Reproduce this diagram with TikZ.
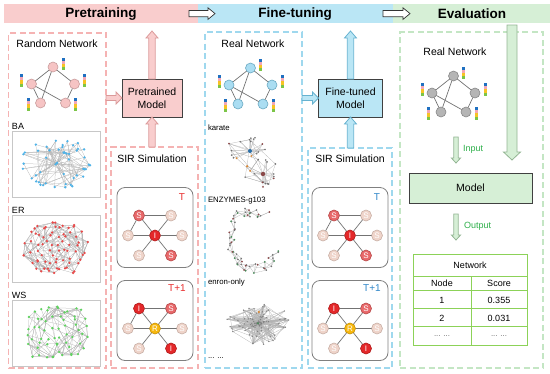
\documentclass[tikz,border=0pt]{standalone}
\usepackage{fontspec}
\setmainfont{Liberation Sans}
\usetikzlibrary{calc,fit}
\definecolor{hpink}{HTML}{F9CDCD}
\definecolor{hblue}{HTML}{BAE6F5}
\definecolor{hgreen}{HTML}{D6EFD6}
\definecolor{dpink}{HTML}{F5B3B3}
\definecolor{dblue}{HTML}{9FD8EE}
\definecolor{dgreen}{HTML}{C4E6C4}
\definecolor{apl}{HTML}{DB9A9A}
\definecolor{abl}{HTML}{66B2D0}
\definecolor{agl}{HTML}{93B593}
\definecolor{npink}{HTML}{F6C4C4}
\definecolor{npinkd}{HTML}{C99C9C}
\definecolor{nblue}{HTML}{AADDF2}
\definecolor{nblued}{HTML}{6AA9C2}
\definecolor{ngray}{HTML}{B5B5B5}
\definecolor{ngrayd}{HTML}{888888}
\definecolor{cbB}{HTML}{1F70C1}
\definecolor{cbP}{HTML}{F3A7B5}
\definecolor{cbY}{HTML}{F7C325}
\definecolor{cbG}{HTML}{7CC547}
\definecolor{sSf}{HTML}{E8686A}
\definecolor{sSd}{HTML}{B84848}
\definecolor{sPf}{HTML}{EFD4CA}
\definecolor{sPd}{HTML}{C8AFA5}
\definecolor{sIf}{HTML}{E4282A}
\definecolor{sId}{HTML}{B01818}
\definecolor{sRf}{HTML}{F6B70E}
\definecolor{sRd}{HTML}{C99000}
\definecolor{tred}{HTML}{E82C2C}
\definecolor{tblue}{HTML}{2F86C8}
\definecolor{tgreen}{HTML}{2EAF4A}
\definecolor{tblc}{HTML}{8CD258}
\definecolor{cBA}{HTML}{4FB3E8}
\definecolor{cER}{HTML}{E84A4A}
\definecolor{cWS}{HTML}{5FD35F}
\definecolor{kbrown}{HTML}{8B4A4A}
\definecolor{kblue}{HTML}{2B6FA8}
\definecolor{korange}{HTML}{D98A3A}
\definecolor{kgreen}{HTML}{4A8A5A}

\tikzset{
  hdr/.style={font=\bfseries\fontsize{13.5}{15}\selectfont},
  lbl/.style={font=\fontsize{10.5}{12.5}\selectfont},
  sublbl/.style={font=\fontsize{9}{10}\selectfont},
  small/.style={font=\fontsize{7.8}{9}\selectfont},
  tbltxt/.style={font=\fontsize{9}{10}\selectfont},
  pdash/.style={draw=dpink, line width=1.3pt, dash pattern=on 6pt off 3.5pt},
  bdash/.style={draw=dblue, line width=1.3pt, dash pattern=on 6pt off 3.5pt},
  gdash/.style={draw=dgreen, line width=1.3pt, dash pattern=on 6pt off 3.5pt},
  modelbox/.style={draw=black!75, line width=0.8pt, align=center, lbl},
  harrow/.style={draw=black!80, fill=white, line width=0.7pt},
  parrow/.style={draw=apl, fill=hpink, line width=0.8pt},
  barrow/.style={draw=abl, fill=hblue, line width=0.8pt},
  garrow/.style={draw=agl, fill=hgreen, line width=0.8pt},
  pnode/.style={circle, minimum size=10pt, line width=0.6pt},
  nedge/.style={draw=black!55, line width=0.7pt},
  sirn/.style={circle, minimum size=11pt, line width=0.6pt, text=white, font=\fontsize{8}{8}\selectfont},
  sS/.style={sirn, fill=sSf, draw=sSd},
  sP/.style={sirn, fill=sPf, draw=sPd},
  sI/.style={sirn, fill=sIf, draw=sId},
  sR/.style={sirn, fill=sRf, draw=sRd},
  sedge/.style={draw=black!55, line width=0.7pt},
  rbox/.style={draw=black!50, line width=0.8pt, rounded corners=8pt},
  panel/.style={draw=black!22, line width=0.8pt},
  gedge/.style={draw=black!30, line width=0.25pt},
  tlab/.style={font=\fontsize{10}{11}\selectfont},
  tbl/.style={draw=tblc, line width=0.9pt},
}

\newcommand\hollow[6]{%
  \coordinate (tmpP) at #2;
  \coordinate (tmpQ) at #3;
  \coordinate (tmpH) at ($(tmpQ)!#6!(tmpP)$);
  \draw[#1] ($(tmpP)!#4!90:(tmpQ)$) -- ($(tmpH)!#4!90:(tmpQ)$) -- ($(tmpH)!#5!90:(tmpQ)$) -- (tmpQ) -- ($(tmpH)!#5!-90:(tmpQ)$) -- ($(tmpH)!#4!-90:(tmpQ)$) -- ($(tmpP)!#4!-90:(tmpQ)$) -- cycle;
}

\newcommand\cbar[3]{%
  \begin{scope}[shift={($(#1)+(#2,#3)$)}]
    \fill[cbB] (0,0) rectangle (3,3.2);
    \fill[cbP] (0,3.2) rectangle (3,6.4);
    \fill[cbY] (0,6.4) rectangle (3,9.6);
    \fill[cbG] (0,9.6) rectangle (3,12.8);
  \end{scope}}

\newcommand\pnet[4]{%
  \node[pnode, fill=#3, draw=#4] (#1t) at ($#2+(0,-18)$) {};
  \node[pnode, fill=#3, draw=#4] (#1l) at ($#2+(-21.5,-1)$) {};
  \node[pnode, fill=#3, draw=#4] (#1r) at ($#2+(21.5,-1)$) {};
  \node[pnode, fill=#3, draw=#4] (#1a) at ($#2+(-12.5,18)$) {};
  \node[pnode, fill=#3, draw=#4] (#1b) at ($#2+(12.5,18)$) {};
  \draw[nedge] (#1t)--(#1l) (#1t)--(#1r) (#1t)--(#1a) (#1l)--(#1a) (#1l)--(#1b) (#1r)--(#1b);
  \cbar{#1t}{8.5}{-9.5}
  \cbar{#1l}{-11.5}{-10}
  \cbar{#1r}{8.5}{-10}
  \cbar{#1a}{-14}{-5}
  \cbar{#1b}{8.5}{-5}
}

\newcommand\siredges[1]{%
  \draw[sedge] (#1tl)--(#1tr) (#1tl)--(#1l) (#1tl)--(#1c) (#1tr)--(#1c) (#1l)--(#1c) (#1r)--(#1c) (#1bl)--(#1c) (#1br)--(#1c);}

% grid-graph edges: prefix, cols, rows, count, col reach, row reach
\newcommand\gridedges[6]{%
  \foreach \k in {1,...,#4}{
    \pgfmathtruncatemacro\ra{random(0,#3-1)}
    \pgfmathtruncatemacro\ca{random(0,#2-1)}
    \pgfmathtruncatemacro\rb{max(0,min(#3-1,\ra+random(-#6,#6)))}
    \pgfmathtruncatemacro\cb{max(0,min(#2-1,\ca+random(-#5,#5)))}
    \pgfmathtruncatemacro\a{\ra*#2+\ca+1}
    \pgfmathtruncatemacro\b{\rb*#2+\cb+1}
    \draw[gedge] (#1\a) -- (#1\b);
  }}

\begin{document}
\begin{tikzpicture}[x=1pt,y=-1pt, every node/.style={inner sep=0pt, outer sep=0pt}]
\useasboundingbox (0,0) rectangle (550,373);

% ---------- header ----------
\node[fill=hpink, fit={(3.5,4.2) (198,23)}] (hp) {};
\node[fill=hblue, fit={(198,4.2) (393,23)}] (hb) {};
\node[fill=hgreen, fit={(393,4.2) (550,23)}] (hg) {};
\node[hdr] (thp) at (101,14) {Pretraining};
\node[hdr] (thb) at (295,14) {Fine-tuning};
\node[hdr] (thg) at (472,14) {Evaluation};
\hollow{harrow}{($(hp.east)+(-9,0)$)}{($(hb.west)+(17,0)$)}{3.2pt}{5.8pt}{7pt}
\hollow{harrow}{($(hb.east)+(-10,0)$)}{($(hg.west)+(17,0)$)}{3.2pt}{5.8pt}{7pt}

% ---------- dashed frames ----------
\node[pdash, fit={(8.5,33) (106,368)}] (rn) {};
\node[pdash, fit={(111,147) (198,368)}] (psir) {};
\node[bdash, fit={(205,32) (302,368)}] (fn) {};
\node[bdash, fit={(308,148) (392,368)}] (bsir) {};
\node[gdash, fit={(400,32) (543,368)}] (ev) {};

% ---------- pretraining ----------
\node[lbl] (rnt) at (57,44) {Random Network};
\pnet{pk}{(53,85)}{npink}{npinkd}

\node[sublbl, anchor=west] (lba) at (12,126.5) {BA};
\node[panel, fit={(12,131) (100,197)}] (pba) {};
\node[sublbl, anchor=west] (ler) at (12,210.5) {ER};
\node[panel, fit={(12,215) (100,282)}] (per) {};
\node[sublbl, anchor=west] (lws) at (12,295.5) {WS};
\node[panel, fit={(12,300) (100,366)}] (pws) {};

\pgfmathsetseed{12}
% BA graph
\foreach \i in {1,...,50}{
  \pgfmathsetmacro\ang{360*rnd}
  \pgfmathsetmacro\rr{\i<4 ? 0.15*rnd : 0.2+0.8*sqrt(rnd)}
  \coordinate (ba\i) at ({57+36*\rr*cos(\ang)},{163+26*\rr*sin(\ang)});
}
\foreach \i in {2,...,50}{
  \pgfmathtruncatemacro\j{1+floor((\i-1)*pow(rnd,2.5))}
  \draw[gedge] (ba\i) -- (ba\j);
}
\foreach \i in {10,...,50}{
  \pgfmathtruncatemacro\j{1+floor((\i-1)*pow(rnd,2))}
  \draw[gedge] (ba\i) -- (ba\j);
}
\foreach \i in {1,...,50} \fill[cBA] (ba\i) circle (1.3);

% ER graph
\foreach \i in {1,...,72}{
  \pgfmathtruncatemacro\row{floor((\i-1)/12)}
  \pgfmathtruncatemacro\col{mod(\i-1,12)}
  \pgfmathsetmacro\sc{1-0.16*abs(\row-2.5)}
  \coordinate (er\i) at ({56+(\col-5.5)*6*\sc+2.5*rand},{248+(\row-2.5)*9+3*rand});
}
\gridedges{er}{12}{6}{290}{4}{2}
\foreach \i in {1,...,72} \fill[cER] (er\i) circle (1.3);

% WS graph
\foreach \i in {1,...,60}{
  \pgfmathtruncatemacro\row{floor((\i-1)/10)}
  \pgfmathtruncatemacro\col{mod(\i-1,10)}
  \pgfmathsetmacro\sc{1-0.14*abs(\row-2.5)}
  \coordinate (ws\i) at ({57+(\col-4.5)*7.4*\sc+3*rand},{332+(\row-2.5)*9+3*rand});
}
\gridedges{ws}{10}{6}{190}{3}{2}
\foreach \i in {1,...,60} \fill[cWS] (ws\i) circle (1.3);

% pretrained model
\node[modelbox, fill=hpink, minimum width=60pt, minimum height=38pt] (pm) at (152,98) {Pretrained\\Model};
\coordinate (ptop) at (152,31);
\hollow{parrow}{(rn.east |- pm.west)}{(pm.west)}{2.5pt}{6pt}{6pt}
\hollow{parrow}{(pm.north)}{(ptop)}{3.2pt}{6pt}{7pt}
\hollow{parrow}{(pm.south |- psir.north)}{(pm.south)}{3.2pt}{6pt}{7pt}

% pretraining SIR
\node[lbl] (psirt) at (152,159) {SIR Simulation};
\node[rbox, fit={(117,187.5) (193,267.5)}] (pT) {};
\node[rbox, fit={(117,280.5) (193,360.5)}] (pT1) {};
\node[tlab, text=tred] (pTl) at ($(pT.north east)+(-11,9.5)$) {T};
\node[tlab, text=tred] (pT1l) at ($(pT1.north east)+(-16,8)$) {T+1};
\begin{scope}[shift={(155,235.5)}]
  \node[sS] (atl) at (-16,-20) {S};
  \node[sP] (atr) at (16,-20) {S};
  \node[sP] (al) at (-27,0) {S};
  \node[sI] (ac) at (0,0) {I};
  \node[sP] (ar) at (27,0) {S};
  \node[sP] (abl) at (-16,20) {S};
  \node[sS] (abr) at (16,20) {S};
\end{scope}
\siredges{a}
\begin{scope}[shift={(155,328.5)}]
  \node[sI] (btl) at (-16,-20) {I};
  \node[sS] (btr) at (16,-20) {S};
  \node[sP] (bl) at (-27,0) {S};
  \node[sR] (bc) at (0,0) {R};
  \node[sP] (br) at (27,0) {S};
  \node[sP] (bbl) at (-16,20) {S};
  \node[sI] (bbr) at (16,20) {I};
\end{scope}
\siredges{b}

% ---------- fine-tuning ----------
\node[lbl] (fnt) at (253,44) {Real Network};
\pnet{bk}{(250.5,86)}{nblue}{nblued}

\node[small, anchor=west] (lka) at (208,128) {karate};
\node[small, anchor=west] (len) at (208,201) {ENZYMES-g103};
\node[small, anchor=west] (leo) at (208,282.5) {enron-only};
\node[small, anchor=west] (ldots) at (208,358) {... ...};

% karate
\coordinate (ka1) at (250,151);
\coordinate (ka2) at (263,174);
\foreach \i in {3,...,18}{
  \pgfmathsetmacro\ang{360*rnd}
  \pgfmathsetmacro\rr{0.3+0.7*sqrt(rnd)}
  \coordinate (ka\i) at ({247+20*\rr*cos(\ang)},{149+13*\rr*sin(\ang)});
}
\foreach \i in {19,...,36}{
  \pgfmathsetmacro\ang{360*rnd}
  \pgfmathsetmacro\rr{0.3+0.7*sqrt(rnd)}
  \coordinate (ka\i) at ({262+18*\rr*cos(\ang)},{173+15*\rr*sin(\ang)});
}
\foreach \i in {3,...,18} \draw[gedge] (ka\i) -- (ka1);
\foreach \i in {19,...,36} \draw[gedge] (ka\i) -- (ka2);
\foreach \k in {1,...,14}{
  \pgfmathtruncatemacro\a{random(3,18)}
  \pgfmathtruncatemacro\b{random(3,18)}
  \draw[gedge] (ka\a) -- (ka\b);
  \pgfmathtruncatemacro\c{random(19,36)}
  \pgfmathtruncatemacro\d{random(19,36)}
  \draw[gedge] (ka\c) -- (ka\d);
}
\foreach \k in {1,...,6}{
  \pgfmathtruncatemacro\a{random(3,18)}
  \pgfmathtruncatemacro\c{random(19,36)}
  \draw[gedge] (ka\a) -- (ka\c);
}
\draw[gedge] (ka1) -- (ka2);
\foreach \i in {3,...,36}{
  \pgfmathtruncatemacro\cc{mod(\i,7)}
  \ifcase\cc \fill[korange] (ka\i) circle (1.1); \or \fill[kbrown] (ka\i) circle (1); \else \fill[black!55] (ka\i) circle (0.9); \fi
}
\fill[kblue] (ka1) circle (2);
\fill[kbrown] (ka2) circle (2.2);

% ENZYMES
\foreach \i in {1,...,60}{
  \pgfmathsetmacro\th{60+270*(\i-1)/59}
  \coordinate (en\i) at ({254+24*cos(\th)+5*rand},{240-29*sin(\th)+5*rand});
}
\foreach \i in {1,...,59}{
  \pgfmathtruncatemacro\j{\i+1}
  \draw[gedge] (en\i) -- (en\j);
}
\foreach \i in {1,...,57}{
  \pgfmathtruncatemacro\j{\i+random(2,3)}
  \draw[gedge] (en\i) -- (en\j);
}
\foreach \i in {1,...,60}{
  \pgfmathtruncatemacro\cc{mod(\i,4)}
  \ifcase\cc \fill[kgreen] (en\i) circle (1); \or \fill[kbrown] (en\i) circle (1); \else \fill[black!55] (en\i) circle (0.9); \fi
}

% enron
\foreach \i in {1,...,110}{
  \pgfmathsetmacro\ang{360*rnd}
  \pgfmathsetmacro\rr{pow(rnd,1.5)}
  \coordinate (eo\i) at ({258+32*\rr*cos(\ang)},{323+22*\rr*sin(\ang)});
}
\foreach \k in {1,...,320}{
  \pgfmathtruncatemacro\a{random(1,110)}
  \pgfmathtruncatemacro\b{random(1,110)}
  \draw[gedge] (eo\a) -- (eo\b);
}
\foreach \i in {1,...,110} \fill[black!50] (eo\i) circle (0.7);
\fill[korange] (eo5) circle (1.3);
\fill[kgreen] (eo9) circle (1.1);

% fine-tuned model
\node[modelbox, fill=hblue, minimum width=64pt, minimum height=38pt] (fm) at (350.5,98) {Fine-tuned\\Model};
\coordinate (btop) at (350.5,31);
\hollow{barrow}{(fn.east |- fm.west)}{(fm.west)}{2.5pt}{6pt}{6pt}
\hollow{barrow}{(fm.north)}{(btop)}{3.2pt}{6pt}{7pt}
\hollow{barrow}{(fm.south |- bsir.north)}{(fm.south)}{3.2pt}{6pt}{7pt}

% fine-tuning SIR
\node[lbl] (bsirt) at (350,159) {SIR Simulation};
\node[rbox, fit={(312,187.5) (388,267.5)}] (bT) {};
\node[rbox, fit={(312,280.5) (388,360.5)}] (bT1) {};
\node[tlab, text=tblue] (bTl) at ($(bT.north east)+(-11,9.5)$) {T};
\node[tlab, text=tblue] (bT1l) at ($(bT1.north east)+(-16,8)$) {T+1};
\begin{scope}[shift={(350,235.5)}]
  \node[sS] (ctl) at (-16,-20) {S};
  \node[sP] (ctr) at (16,-20) {S};
  \node[sP] (cl) at (-27,0) {S};
  \node[sI] (cc) at (0,0) {I};
  \node[sP] (cr) at (27,0) {S};
  \node[sP] (cbl) at (-16,20) {S};
  \node[sS] (cbr) at (16,20) {S};
\end{scope}
\siredges{c}
\begin{scope}[shift={(350,328.5)}]
  \node[sI] (dtl) at (-16,-20) {I};
  \node[sS] (dtr) at (16,-20) {S};
  \node[sP] (dl) at (-27,0) {S};
  \node[sR] (dc) at (0,0) {R};
  \node[sP] (dr) at (27,0) {S};
  \node[sP] (dbl) at (-16,20) {S};
  \node[sI] (dbr) at (16,20) {I};
\end{scope}
\siredges{d}

% ---------- evaluation ----------
\coordinate (gtop) at (512,25);
\coordinate (gbot) at (512,160);
\hollow{garrow}{(gtop)}{(gbot)}{5pt}{8.5pt}{8pt}

\node[lbl] (evt) at (455,52) {Real Network};
\pnet{gk}{(453.5,94)}{ngray}{ngrayd}

\node[modelbox, fill=hgreen, minimum width=123pt, minimum height=30pt] (em) at (470.5,188) {Model};
\coordinate (inA) at (456,137);
\coordinate (inB) at (456,163);
\coordinate (outA) at (456,214);
\coordinate (outB) at (456,240);
\hollow{garrow}{(inA)}{(inB)}{2.2pt}{4.6pt}{5pt}
\hollow{garrow}{(outA)}{(outB)}{2.2pt}{4.6pt}{5pt}
\node[font=\fontsize{9}{10}\selectfont, text=tgreen, anchor=west] (inl) at (463,149) {Input};
\node[font=\fontsize{9}{10}\selectfont, text=tgreen, anchor=west] (outl) at (464,226) {Output};

% table
\node[tbl, fit={(413,254.3) (527,345)}] (tab) {};
\draw[tbl] (413,276) -- (527,276);
\draw[tbl] (413,290.7) -- (527,290.7);
\draw[tbl] (413,308.7) -- (527,308.7);
\draw[tbl] (413,326.7) -- (527,326.7);
\draw[tbl] (471,276) -- (471,345);
\node[tbltxt] (tnet) at (470,265.5) {Network};
\node[tbltxt] (tnode) at (442,283.5) {Node};
\node[tbltxt] (tscore) at (499,283.5) {Score};
\node[tbltxt] (t1) at (442,300) {1};
\node[tbltxt] (t1s) at (499,300) {0.355};
\node[tbltxt] (t2) at (442,318) {2};
\node[tbltxt] (t2s) at (499,318) {0.031};
\node[small, text=black!60] (t3) at (442,336) {... ...};
\node[small, text=black!60] (t3s) at (499,336) {... ...};
\end{tikzpicture}
\end{document}
